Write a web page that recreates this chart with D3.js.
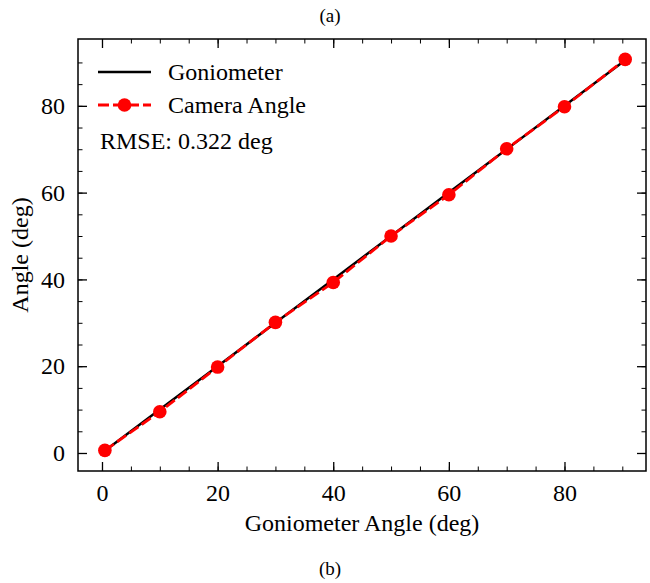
<!DOCTYPE html>
<html>
<head>
<meta charset="utf-8">
<script src="https://cdn.jsdelivr.net/npm/d3@7"></script>
<style>
  body { margin: 0; background: #fff; }
  text { font-family: "Liberation Serif", "DejaVu Serif", serif; fill: #000; }
</style>
</head>
<body>
<div id="chart"></div>
<script>
// goniometer reference angles (deg)
const goniometer = [0.5, 10, 20, 30, 40, 50, 60, 70, 80, 90.5];
// angle measured by camera (deg)
const cameraAngle = [0.6, 9.5, 19.8, 30.1, 39.3, 50.0, 59.5, 70.1, 79.8, 90.7];
const xTicks = [0, 20, 40, 60, 80];
const yTicks = [0, 20, 40, 60, 80];

const width = 650, height = 583;
const margin = {left: 78, top: 39, right: 4, bottom: 112};
const plotW = width - margin.left - margin.right;
const plotH = height - margin.top - margin.bottom;
const fontSize = '24px';

const svg = d3.select('#chart')
  .append('svg')
  .attr('width', width)
  .attr('height', height);

const xscale = d3.scaleLinear().domain([-4.15, 94.1]).range([0, plotW]);
const yscale = d3.scaleLinear().domain([-4.15, 95.4]).range([plotH, 0]);

const g = svg.append('g')
  .attr('transform', 'translate(' + margin.left + ',' + margin.top + ')');

// ticks pointing inward on all four sides, minor every 5
const minor = d3.range(0, 95, 5);
function tickAxis(axisFn, scale, ticks, transform, labels) {
  g.append('g')
    .attr('transform', transform)
    .call(axisFn(scale).tickValues(minor).tickSize(-4.5).tickFormat(''))
    .call(s => s.select('.domain').remove());
  const ax = g.append('g')
    .attr('transform', transform)
    .call(axisFn(scale).tickValues(ticks).tickSize(-9).tickPadding(13)
      .tickFormat(labels ? d3.format('d') : ''));
  ax.select('.domain').remove();
  ax.selectAll('text').style('font-size', fontSize).style('font-family', '"Liberation Serif", serif');
  ax.selectAll('line').attr('stroke-width', 1.3);
}
tickAxis(d3.axisBottom, xscale, xTicks, 'translate(0,' + plotH + ')', true);
tickAxis(d3.axisTop, xscale, xTicks, 'translate(0,0)', false);
tickAxis(d3.axisLeft, yscale, yTicks, 'translate(0,0)', true);
tickAxis(d3.axisRight, yscale, yTicks, 'translate(' + plotW + ',0)', false);

g.append('rect')
  .attr('width', plotW).attr('height', plotH)
  .attr('fill', 'none').attr('stroke', '#000').attr('stroke-width', 1.5);

// goniometer (identity) line
const line = d3.line().x(d => xscale(d[0])).y(d => yscale(d[1]));
g.append('path')
  .datum(goniometer.map(v => [v, v]))
  .attr('d', line)
  .attr('fill', 'none').attr('stroke', '#000').attr('stroke-width', 2.5);

const camPts = goniometer.map((v, i) => [v, cameraAngle[i]]);
g.append('path')
  .datum(camPts)
  .attr('d', line)
  .attr('fill', 'none').attr('stroke', '#ff0000').attr('stroke-width', 2.8)
  .attr('stroke-dasharray', '11,4');
g.selectAll('circle.pt')
  .data(camPts)
  .enter().append('circle')
  .attr('class', 'pt')
  .attr('cx', d => xscale(d[0]))
  .attr('cy', d => yscale(d[1]))
  .attr('r', 6.8)
  .attr('fill', '#ff0000');

// legend
const lg = svg.append('g');
lg.append('line').attr('x1', 98).attr('x2', 151).attr('y1', 72).attr('y2', 72)
  .attr('stroke', '#000').attr('stroke-width', 2.5);
lg.append('text').attr('x', 168).attr('y', 80).style('font-size', fontSize).text('Goniometer');
lg.append('line').attr('x1', 98).attr('x2', 151).attr('y1', 105).attr('y2', 105)
  .attr('stroke', '#ff0000').attr('stroke-width', 2.8).attr('stroke-dasharray', '11,4');
lg.append('circle').attr('cx', 124.5).attr('cy', 105).attr('r', 6.8).attr('fill', '#ff0000');
lg.append('text').attr('x', 168).attr('y', 113).style('font-size', fontSize).text('Camera Angle');
lg.append('text').attr('x', 100).attr('y', 149).style('font-size', fontSize).text('RMSE: 0.322 deg');

// axis labels
svg.append('text')
  .attr('x', margin.left + plotW / 2).attr('y', 531)
  .attr('text-anchor', 'middle').style('font-size', fontSize)
  .text('Goniometer Angle (deg)');
svg.append('text')
  .attr('transform', 'translate(28,' + (margin.top + plotH / 2) + ') rotate(-90)')
  .attr('text-anchor', 'middle').style('font-size', fontSize)
  .text('Angle (deg)');

// captions
svg.append('text').attr('x', 330).attr('y', 22).attr('text-anchor', 'middle')
  .style('font-size', '19px').text('(a)');
svg.append('text').attr('x', 330).attr('y', 575).attr('text-anchor', 'middle')
  .style('font-size', '19px').text('(b)');
</script>
</body>
</html>
